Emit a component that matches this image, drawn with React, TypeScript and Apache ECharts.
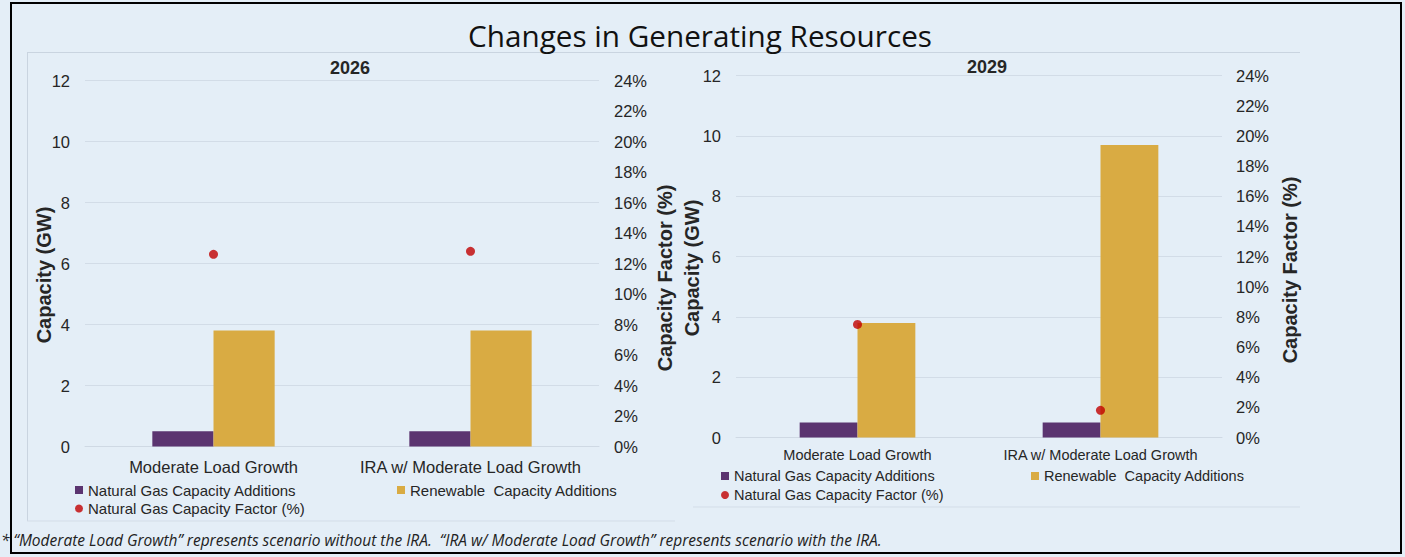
import React, { useEffect, useRef } from 'react';
import * as echarts from 'echarts';

const categories = ['Moderate Load Growth', 'IRA w/ Moderate Load Growth'];
const gasAdditions2026 = [0.5, 0.5];
const renewableAdditions2026 = [3.8, 3.8];
const gasCapacityFactor2026 = [12.6, 12.8];
const gasAdditions2029 = [0.5, 0.5];
const renewableAdditions2029 = [3.8, 9.7];
const gasCapacityFactor2029 = [7.5, 1.8];

const gwMax = 12;
const gwInterval = 2;
const pctMax = 24;
const pctInterval = 2;

const SERIES_GAS = 'Natural Gas Capacity Additions';
const SERIES_REN = 'Renewable  Capacity Additions';
const SERIES_CF = 'Natural Gas Capacity Factor (%)';

const TITLE = 'Changes in Generating Resources';
const FOOTNOTE =
  '* \u201cModerate Load Growth\u201d represents scenario without the IRA.  \u201cIRA w/ Moderate Load Growth\u201d represents scenario with the IRA.';

const PURPLE = '#5B3470';
const YELLOW = '#D9AB43';
const RED = '#C00000';
const TEXT = '#262626';
const GRID = '#D2DCE7';
const BG = '#E4EEF7';
const SANS = '"Liberation Sans", Arial, sans-serif';

function buildOption() {
  const xAxisBase = (gridIndex: number, fontSize: number, margin: number) => ({
    gridIndex,
    type: 'category',
    data: categories,
    axisLine: { lineStyle: { color: '#CFD9E4', width: 1 } },
    axisTick: { show: false },
    axisLabel: { interval: 0, fontSize, margin, color: TEXT, fontFamily: SANS },
  });
  const gwAxis = (gridIndex: number) => ({
    gridIndex,
    type: 'value',
    position: 'left',
    min: 0,
    max: gwMax,
    interval: gwInterval,
    axisLine: { show: false },
    axisTick: { show: false },
    axisLabel: { fontSize: 16.5, margin: 15, color: TEXT, fontFamily: SANS },
    splitLine: { lineStyle: { color: GRID, width: 1 } },
  });
  const pctAxis = (gridIndex: number, margin: number) => ({
    gridIndex,
    type: 'value',
    position: 'right',
    min: 0,
    max: pctMax,
    interval: pctInterval,
    axisLine: { show: false },
    axisTick: { show: false },
    splitLine: { show: false },
    axisLabel: { fontSize: 16.5, margin, color: TEXT, fontFamily: SANS, formatter: '{value}%' },
  });
  const bar = (name: string, data: number[], color: string, xi: number, yi: number) => ({
    name,
    type: 'bar',
    xAxisIndex: xi,
    yAxisIndex: yi,
    data,
    barWidth: '23.8%',
    barGap: '0%',
    itemStyle: { color },
  });
  const dots = (data: number[], xi: number, yi: number) => ({
    name: SERIES_CF,
    type: 'scatter',
    xAxisIndex: xi,
    yAxisIndex: yi,
    data,
    symbol: 'circle',
    symbolSize: 9,
    itemStyle: { color: RED },
    z: 5,
  });
  const legend = (name: string, icon: string, left: number, top: number, fontSize: number) => ({
    data: [{ name, icon }],
    left,
    top,
    padding: 0,
    itemWidth: 8,
    itemHeight: 8,
    selectedMode: false,
    textStyle: { fontSize, color: TEXT, fontFamily: SANS },
  });
  const rotText = (text: string, x: number, y: number) => ({
    type: 'text',
    x,
    y,
    rotation: Math.PI / 2,
    style: {
      text,
      font: `bold 20px ${SANS}`,
      fill: TEXT,
      textAlign: 'center',
      textVerticalAlign: 'middle',
    },
  });
  const line = (x1: number, y1: number, x2: number, y2: number, stroke: string, lineWidth: number) => ({
    type: 'line',
    shape: { x1, y1, x2, y2 },
    style: { stroke, lineWidth },
    silent: true,
  });

  return {
    animation: false,
    backgroundColor: BG,
    grid: [
      { left: 85, top: 80.5, width: 514, height: 366 },
      { left: 736, top: 75.7, width: 486, height: 361.8 },
    ],
    xAxis: [xAxisBase(0, 16.5, 12), xAxisBase(1, 14.5, 10)],
    yAxis: [gwAxis(0), pctAxis(0, 15), gwAxis(1), pctAxis(1, 14)],
    series: [
      bar(SERIES_GAS, gasAdditions2026, PURPLE, 0, 0),
      bar(SERIES_REN, renewableAdditions2026, YELLOW, 0, 0),
      dots(gasCapacityFactor2026, 0, 1),
      bar(SERIES_GAS, gasAdditions2029, PURPLE, 1, 2),
      bar(SERIES_REN, renewableAdditions2029, YELLOW, 1, 2),
      dots(gasCapacityFactor2029, 1, 3),
    ],
    legend: [
      legend(SERIES_GAS, 'rect', 75, 482.5, 15),
      legend(SERIES_REN, 'rect', 397, 482.5, 15),
      legend(SERIES_CF, 'circle', 75, 501, 15),
      legend(SERIES_GAS, 'rect', 721, 468.5, 14.5),
      legend(SERIES_REN, 'rect', 1031, 468.5, 14.5),
      legend(SERIES_CF, 'circle', 721, 487.5, 14.5),
    ],
    graphic: [
      line(27, 52.5, 1300, 52.5, '#C9D4E0', 1),
      line(27.5, 52.5, 27.5, 521, '#C9D4E0', 1),
      line(27, 521, 675, 521, '#D3DDE8', 1),
      line(693, 507, 1300, 507, '#D3DDE8', 1),
      {
        type: 'rect',
        shape: { x: 11, y: 3, width: 1390, height: 550 },
        style: { fill: 'none', stroke: '#000', lineWidth: 2 },
        silent: true,
      },
      {
        type: 'text',
        x: 700,
        y: 35,
        style: {
          text: TITLE,
          font: '29.7px "Open Sans", sans-serif',
          fill: '#111',
          textAlign: 'center',
          textVerticalAlign: 'middle',
        },
      },
      {
        type: 'text',
        x: 350,
        y: 68,
        style: { text: '2026', font: `bold 18px ${SANS}`, fill: TEXT, textAlign: 'center', textVerticalAlign: 'middle' },
      },
      {
        type: 'text',
        x: 987,
        y: 67,
        style: { text: '2029', font: `bold 18px ${SANS}`, fill: TEXT, textAlign: 'center', textVerticalAlign: 'middle' },
      },
      rotText('Capacity (GW)', 44, 275),
      rotText('Capacity Factor (%)', 665, 278),
      rotText('Capacity (GW)', 692, 268),
      rotText('Capacity Factor (%)', 1290, 270),
      {
        type: 'text',
        x: 1,
        y: 540,
        style: {
          text: FOOTNOTE,
          font: 'italic 15.5px "Open Sans", sans-serif',
          fill: '#222',
          textAlign: 'left',
          textVerticalAlign: 'middle',
        },
      },
    ],
  };
}

export default function App() {
  const ref = useRef<HTMLDivElement>(null);
  useEffect(() => {
    if (!ref.current) return;
    const chart = echarts.init(ref.current, undefined, { renderer: 'svg' });
    chart.setOption(buildOption() as any);
    return () => chart.dispose();
  }, []);
  return (
    <div
      ref={ref}
      style={{ position: 'absolute', left: 0, top: 0, width: 1405, height: 557, background: BG }}
    />
  );
}
